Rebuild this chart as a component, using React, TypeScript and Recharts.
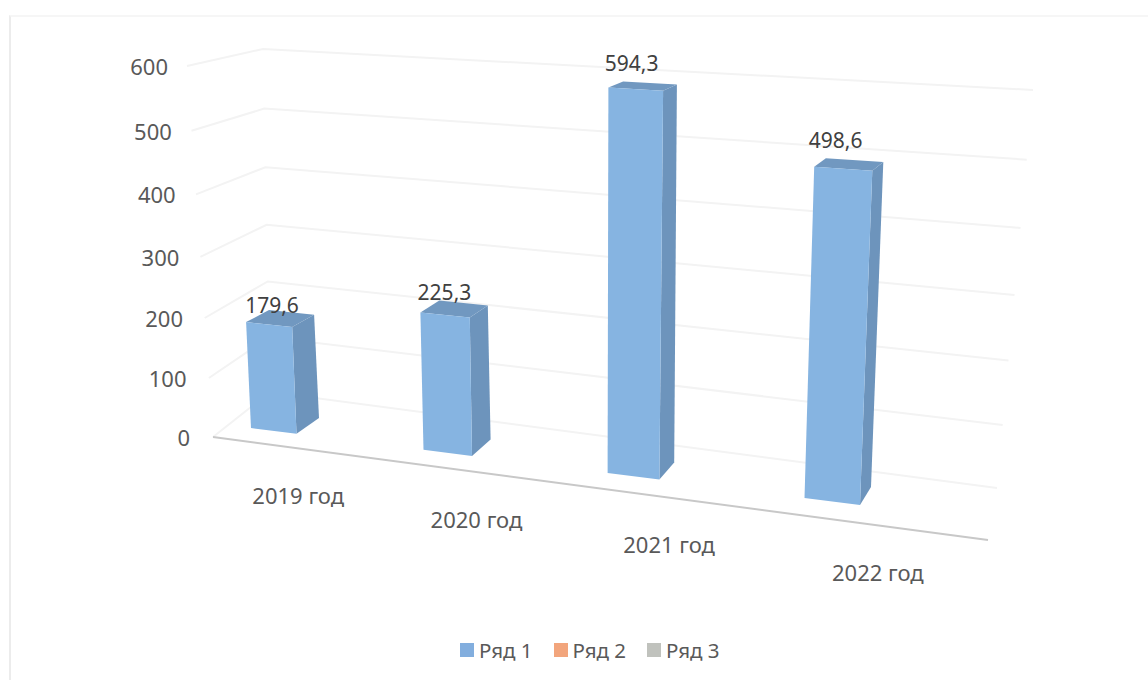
import React from "react";
import {
  BarChart,
  Bar,
  XAxis,
  YAxis,
  CartesianGrid,
  Legend,
  LabelList,
  ReferenceLine,
} from "recharts";

const categories = ["2019 год", "2020 год", "2021 год", "2022 год"];
const series1 = [179.6, 225.3, 594.3, 498.6];
const series2 = [null, null, null, null];
const series3 = [null, null, null, null];
const yTicks = [0, 100, 200, 300, 400, 500, 600];

const data = categories.map((name, i) => ({
  name,
  s1: series1[i],
  s2: series2[i],
  s3: series3[i],
}));

const FONT = "'Noto Sans', sans-serif";
const PLOT = { x: 60, y: 20, w: 800, h: 600 };
const BAND = PLOT.w / categories.length;
const BAR_SIZE = 54;

// flat plot coordinates -> picture, the old chart is a perspective view
type Row = [number, number, number, number];

function homography(rows: Row[]) {
  const m: number[][] = [];
  rows.forEach(([bands, value, dx, dy]) => {
    const sx = PLOT.x + bands * BAND;
    const sy = PLOT.y + PLOT.h * (1 - value / 600);
    m.push([sx, sy, 1, 0, 0, 0, -dx * sx, -dx * sy, dx]);
    m.push([0, 0, 0, sx, sy, 1, -dy * sx, -dy * sy, dy]);
  });
  for (let c = 0; c < 8; c++) {
    let p = c;
    for (let r = c + 1; r < 8; r++) {
      if (Math.abs(m[r][c]) > Math.abs(m[p][c])) p = r;
    }
    [m[c], m[p]] = [m[p], m[c]];
    for (let r = 0; r < 8; r++) {
      if (r === c) continue;
      const f = m[r][c] / m[c][c];
      for (let k = c; k < 9; k++) m[r][k] -= f * m[c][k];
    }
  }
  const h = m.map((row, i) => row[8] / row[i]);
  return (x: number, y: number): [number, number] => {
    const w = h[6] * x + h[7] * y + 1;
    return [(h[0] * x + h[1] * y + h[2]) / w, (h[3] * x + h[4] * y + h[5]) / w];
  };
}

const barFront = homography([
  [0.365, 0, 251, 428],
  [3.635, 0, 860, 505],
  [0.365, 600, 234, 62],
  [3.635, 600, 875, 99],
]);
const barBack = homography([
  [0.635, 0, 319, 418],
  [3.635, 0, 871, 487],
  [0.635, 600, 302, 60],
  [3.635, 600, 886, 92],
]);
const wallFront = homography([
  [0, 0, 213, 437],
  [4, 0, 988, 540],
  [0, 600, 187, 66],
  [4, 600, 1011, 108],
]);
const wallBack = homography([
  [0, 0, 270, 392],
  [4, 0, 997, 488],
  [0, 600, 263, 49],
  [4, 600, 1033, 90],
]);

const pts = (list: [number, number][]) =>
  list.map((p) => `${p[0].toFixed(1)},${p[1].toFixed(1)}`).join(" ");

function Bar3D(props: any) {
  const { x, y, width, height } = props;
  if (!height || height <= 0) return null;
  const r = x + width;
  const b = y + height;
  return (
    <g>
      <polygon
        fill="#6d94bc"
        points={pts([barFront(r, y), barBack(r, y), barBack(r, b), barFront(r, b)])}
      />
      <polygon
        fill="#7198c0"
        points={pts([barFront(x, y), barBack(x, y), barBack(r, y), barFront(r, y)])}
      />
      <polygon
        fill="#86b4e1"
        points={pts([barFront(x, y), barFront(r, y), barFront(r, b), barFront(x, b)])}
      />
    </g>
  );
}

function gridLine(props: any) {
  const { y, x1, y1 } = props;
  const yy = y1 ?? y;
  const left = x1 ?? PLOT.x;
  return (
    <polyline
      key={`grid-${yy}`}
      fill="none"
      stroke="#f3f3f3"
      strokeWidth={2}
      points={pts([wallFront(left, yy), wallBack(left, yy), wallBack(PLOT.x + PLOT.w, yy)])}
    />
  );
}

function axisLine(props: any) {
  const { x1, y1, x2, y2 } = props;
  return (
    <polyline
      fill="none"
      stroke="#c8c8c8"
      strokeWidth={2}
      points={pts([wallFront(x1, y1), wallFront(x2, y2)])}
    />
  );
}

function YTick(props: any) {
  const { y, payload } = props;
  const [px, py] = wallFront(PLOT.x, y);
  return (
    <text x={px - 23 + payload.value / 150} y={py} textAnchor="end" dominantBaseline="central" fill="#595959" fontSize={22} fontFamily={FONT}>
      {payload.value}
    </text>
  );
}

function XTick(props: any) {
  const { x, payload } = props;
  const [px, py] = wallFront(x, PLOT.y + PLOT.h);
  return (
    <text x={px + 1} y={py + 47} textAnchor="middle" dominantBaseline="central" fill="#595959" fontSize={22} fontFamily={FONT}>
      {payload.value}
    </text>
  );
}

function barLabel(props: any) {
  const { x, y, width, value, index } = props;
  if (value == null) return null;
  const [px, py] = barFront(x + width / 2, y);
  return (
    <text x={px + 3 - 3.5 * index} y={py - 20 - 3 * index} textAnchor="middle" dominantBaseline="central" fill="#404040" fontSize={21} fontFamily={FONT}>
      {Number(value).toFixed(1).replace(".", ",")}
    </text>
  );
}

function legendContent(props: any) {
  return (
    <div style={{ display: "flex", fontFamily: FONT, fontSize: 20.5, color: "#595959" }}>
      {props.payload.map((item: any) => (
        <div key={item.value} style={{ display: "flex", alignItems: "center", width: 93.5 }}>
          <span style={{ width: 14, height: 14, background: item.color, marginRight: 5 }} />
          {item.value}
        </div>
      ))}
    </div>
  );
}

export default function App() {
  return (
    <div style={{ position: "absolute", left: 0, top: 0, width: 1148, height: 680, background: "#fff", overflow: "hidden" }}>
      <div
        style={{
          position: "absolute",
          left: 9,
          top: 15,
          right: 0,
          bottom: 0,
          borderLeft: "2px solid #ececec",
          borderTop: "2px solid #f6f6f6",
        }}
      />
      <BarChart
        width={1148}
        height={680}
        data={data}
        style={{ position: "absolute", left: 0, top: 0 }}
        margin={{ top: PLOT.y, left: 0, right: 1148 - PLOT.x - PLOT.w, bottom: 30 }}
      >
        <CartesianGrid vertical={false} horizontal={gridLine} />
        <XAxis dataKey="name" height={30} interval={0} axisLine={false} tickLine={false} tick={XTick} />
        <YAxis width={PLOT.x} domain={[0, 600]} ticks={yTicks} interval={0} axisLine={false} tickLine={false} tick={YTick} />
        <ReferenceLine y={0} shape={axisLine} />
        <Legend
          layout="horizontal"
          align="center"
          verticalAlign="middle"
          content={legendContent}
          wrapperStyle={{ left: 460, top: 636, width: 290 }}
        />
        <Bar dataKey="s1" name="Ряд 1" stackId="a" barSize={BAR_SIZE} fill="#82aede" shape={Bar3D} isAnimationActive={false}>
          <LabelList dataKey="s1" content={barLabel} />
        </Bar>
        <Bar dataKey="s2" name="Ряд 2" stackId="a" barSize={BAR_SIZE} fill="#f2a57c" shape={Bar3D} isAnimationActive={false} />
        <Bar dataKey="s3" name="Ряд 3" stackId="a" barSize={BAR_SIZE} fill="#c0c2bd" shape={Bar3D} isAnimationActive={false} />
      </BarChart>
    </div>
  );
}
